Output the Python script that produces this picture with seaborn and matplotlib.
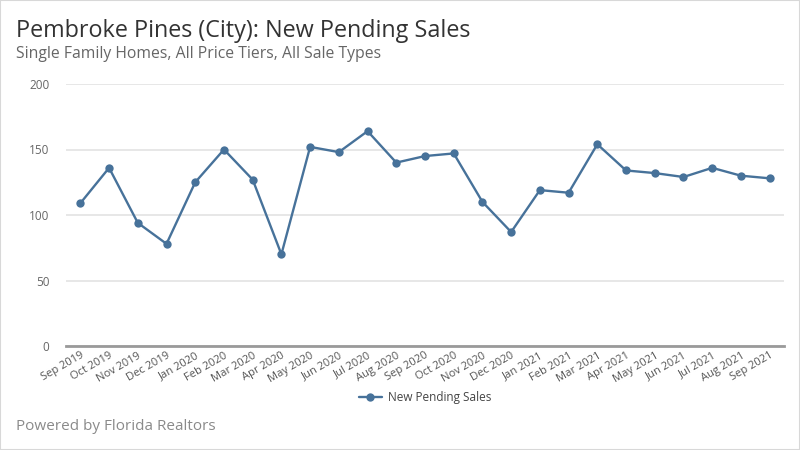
import matplotlib
matplotlib.use("Agg")
import matplotlib.pyplot as plt
import seaborn as sns
import pandas as pd
from matplotlib.patches import Rectangle

months = ["Sep 2019", "Oct 2019", "Nov 2019", "Dec 2019", "Jan 2020", "Feb 2020",
          "Mar 2020", "Apr 2020", "May 2020", "Jun 2020", "Jul 2020", "Aug 2020",
          "Sep 2020", "Oct 2020", "Nov 2020", "Dec 2020", "Jan 2021", "Feb 2021",
          "Mar 2021", "Apr 2021", "May 2021", "Jun 2021", "Jul 2021", "Aug 2021",
          "Sep 2021"]
pending = [109, 136, 94, 78, 125, 150, 127, 70, 152, 148, 164, 140,
           145, 147, 110, 87, 119, 117, 154, 134, 132, 129, 136, 130, 128]
yticks = [0, 50, 100, 150, 200]

sns.set_theme(style="white")
plt.rcParams['font.family'] = ['Open Sans', 'DejaVu Sans']

df = pd.DataFrame({"Month": months, "New Pending Sales": pending})

fig = plt.figure(figsize=(8, 4.5), dpi=100)
ax = fig.add_axes([66/800, 1-346/450, (784-66)/800, (346-84)/450])

color = "#47729a"
sns.lineplot(data=df, x="Month", y="New Pending Sales", ax=ax, color=color,
             marker="o", markersize=6, markeredgewidth=0, linewidth=1.7,
             label="New Pending Sales", sort=False)

ax.set_xlim(-0.5, len(months) - 0.5)
ax.set_ylim(0, 200)
ax.set_yticks(yticks)
ax.set_yticklabels([str(v) for v in yticks])
ax.grid(axis="y", color="#e3e3e3", linewidth=1.2)
ax.set_axisbelow(True)
for s in ["top", "right", "left"]:
    ax.spines[s].set_visible(False)
ax.spines["bottom"].set_color("#9a9a9a")
ax.spines["bottom"].set_linewidth(2)
ax.set_xlabel("")
ax.set_ylabel("")
ax.tick_params(axis="y", length=0, pad=12, labelsize=8.5, labelcolor="#666666")
ax.tick_params(axis="x", length=0, pad=3, labelsize=8, labelcolor="#555555")
ax.set_xticks(range(len(months)))
ax.set_xticklabels(months, rotation=30, ha="right", rotation_mode="anchor")

ax.legend(loc="upper center", bbox_to_anchor=(0.5, -0.13), frameon=False,
          fontsize=8.5, labelcolor="#444444", handlelength=2.0, handletextpad=0.5)

fig.text(16/800, 1-31/450, "Pembroke Pines (City): New Pending Sales",
         fontsize=16.8, color="#333333", va="center", ha="left")
fig.text(16/800, 1-54/450, "Single Family Homes, All Price Tiers, All Sale Types",
         fontsize=11.3, color="#666666", va="center", ha="left")
fig.text(16/800, 1-426/450, "Powered by Florida Realtors",
         fontsize=11, color="#8a8a8a", va="center", ha="left")

fig.patches.append(Rectangle((0, 0), 1, 1, transform=fig.transFigure, fill=False,
                             edgecolor="#d8d8d8", linewidth=1.5))

fig.savefig("out.png", dpi=100)
